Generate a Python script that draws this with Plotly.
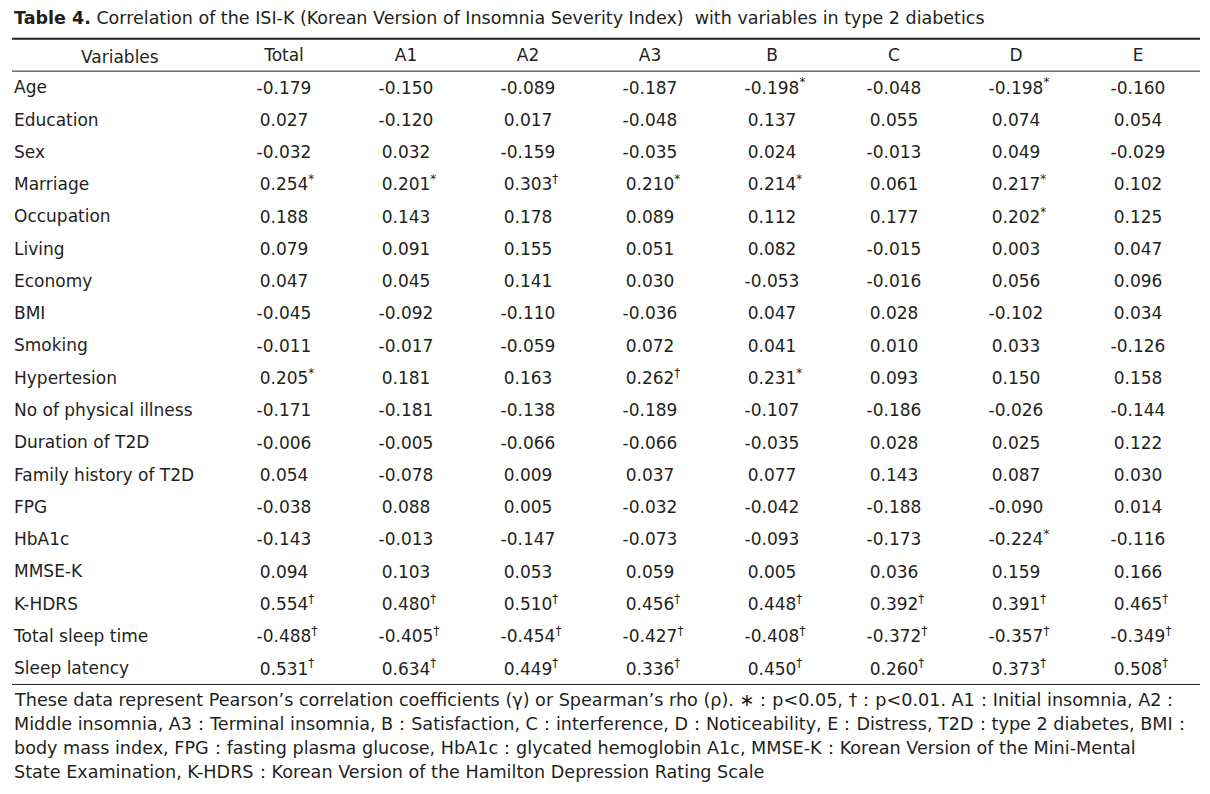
import plotly.graph_objects as go

# table data
variables = ["Age", "Education", "Sex", "Marriage", "Occupation", "Living", "Economy",
             "BMI", "Smoking", "Hypertesion", "No of physical illness", "Duration of T2D",
             "Family history of T2D", "FPG", "HbA1c", "MMSE-K", "K-HDRS",
             "Total sleep time", "Sleep latency"]
columns = ["Total", "A1", "A2", "A3", "B", "C", "D", "E"]

total = [-0.179, 0.027, -0.032, 0.254, 0.188, 0.079, 0.047, -0.045, -0.011, 0.205,
         -0.171, -0.006, 0.054, -0.038, -0.143, 0.094, 0.554, -0.488, 0.531]
a1 = [-0.150, -0.120, 0.032, 0.201, 0.143, 0.091, 0.045, -0.092, -0.017, 0.181,
      -0.181, -0.005, -0.078, 0.088, -0.013, 0.103, 0.480, -0.405, 0.634]
a2 = [-0.089, 0.017, -0.159, 0.303, 0.178, 0.155, 0.141, -0.110, -0.059, 0.163,
      -0.138, -0.066, 0.009, 0.005, -0.147, 0.053, 0.510, -0.454, 0.449]
a3 = [-0.187, -0.048, -0.035, 0.210, 0.089, 0.051, 0.030, -0.036, 0.072, 0.262,
      -0.189, -0.066, 0.037, -0.032, -0.073, 0.059, 0.456, -0.427, 0.336]
b = [-0.198, 0.137, 0.024, 0.214, 0.112, 0.082, -0.053, 0.047, 0.041, 0.231,
     -0.107, -0.035, 0.077, -0.042, -0.093, 0.005, 0.448, -0.408, 0.450]
c = [-0.048, 0.055, -0.013, 0.061, 0.177, -0.015, -0.016, 0.028, 0.010, 0.093,
     -0.186, 0.028, 0.143, -0.188, -0.173, 0.036, 0.392, -0.372, 0.260]
d = [-0.198, 0.074, 0.049, 0.217, 0.202, 0.003, 0.056, -0.102, 0.033, 0.150,
     -0.026, 0.025, 0.087, -0.090, -0.224, 0.159, 0.391, -0.357, 0.373]
e = [-0.160, 0.054, -0.029, 0.102, 0.125, 0.047, 0.096, 0.034, -0.126, 0.158,
     -0.144, 0.122, 0.030, 0.014, -0.116, 0.166, 0.465, -0.349, 0.508]

# significance marks: * p<0.05, † p<0.01
sig_total = ["", "", "", "*", "", "", "", "", "", "*", "", "", "", "", "", "", "†", "†", "†"]
sig_a1 = ["", "", "", "*", "", "", "", "", "", "", "", "", "", "", "", "", "†", "†", "†"]
sig_a2 = ["", "", "", "†", "", "", "", "", "", "", "", "", "", "", "", "", "†", "†", "†"]
sig_a3 = ["", "", "", "*", "", "", "", "", "", "†", "", "", "", "", "", "", "†", "†", "†"]
sig_b = ["*", "", "", "*", "", "", "", "", "", "*", "", "", "", "", "", "", "†", "†", "†"]
sig_c = ["", "", "", "", "", "", "", "", "", "", "", "", "", "", "", "", "†", "†", "†"]
sig_d = ["*", "", "", "*", "*", "", "", "", "", "", "", "", "", "", "*", "", "†", "†", "†"]
sig_e = ["", "", "", "", "", "", "", "", "", "", "", "", "", "", "", "", "†", "†", "†"]

values = [total, a1, a2, a3, b, c, d, e]
marks = [sig_total, sig_a1, sig_a2, sig_a3, sig_b, sig_c, sig_d, sig_e]

title_bold = "Table 4."
title_rest = ("Correlation of the ISI-K (Korean Version of Insomnia Severity Index)  "
              "with variables in type 2 diabetics")
footnote = [
    "These data represent Pearson\u2019s correlation coefficients (\u03b3) or Spearman\u2019s rho (\u03c1). "
    "\u2217\uff1ap<0.05, \u2020\uff1ap<0.01. A1\uff1aInitial insomnia, A2\uff1a",
    "Middle insomnia, A3\uff1aTerminal insomnia, B\uff1aSatisfaction, C\uff1ainterference, "
    "D\uff1aNoticeability, E\uff1aDistress, T2D\uff1atype 2 diabetes, BMI\uff1a",
    "body mass index, FPG\uff1afasting plasma glucose, HbA1c\uff1aglycated hemoglobin A1c, "
    "MMSE-K\uff1aKorean Version of the Mini-Mental",
    "State Examination, K-HDRS\uff1aKorean Version of the Hamilton Depression Rating Scale",
]

# page geometry (pixels)
W, H = 1210, 794
FONT = "DejaVu Sans"
INK = "#231f20"
left_px = 11           # where the plot area (and row labels) start
col0_px, col_step = 284, 122
hdr_px, row_step = 57, 32.28
rule_lift = 2 / row_step   # rules sit a touch above the row midlines

header_key = "__header__"
rows = [header_key] + variables

x0 = -(col0_px - left_px) / col_step
x1 = x0 + (W - left_px) / col_step
y_top = -hdr_px / row_step
y_bot = y_top + H / row_step


def cell(v, m):
    num = f"{v:.3f}"
    if not m:
        return num
    # invisible copy of the mark on the left keeps the number centred
    return f"<span style='color:rgba(0,0,0,0)'><sup>{m}</sup></span>{num}<sup>{m}</sup>"


fig = go.Figure()

# header row
fig.add_trace(go.Scatter(
    x=columns, y=[header_key] * len(columns),
    mode="text", text=columns,
    textfont=dict(family=FONT, size=17, color=INK),
    textposition="middle center", hoverinfo="skip",
))

for col, vals, sig in zip(columns, values, marks):
    fig.add_trace(go.Scatter(
        x=[col] * len(variables), y=variables,
        mode="text", text=[cell(v, m) for v, m in zip(vals, sig)],
        textfont=dict(family=FONT, size=17, color=INK),
        textposition="middle center", hoverinfo="skip",
    ))

fig.update_layout(
    width=W, height=H,
    margin=dict(l=0, r=0, t=0, b=0),
    paper_bgcolor="white",
    plot_bgcolor="white",
    showlegend=False,
    xaxis=dict(
        type="category", categoryorder="array", categoryarray=columns,
        range=[x0, x1], domain=[left_px / W, 1],
        showgrid=False, zeroline=False, showticklabels=False, showline=False,
        fixedrange=True,
    ),
    yaxis=dict(
        type="category", categoryorder="array", categoryarray=rows,
        range=[y_bot, y_top],
        showgrid=False, zeroline=False, showline=False,
        tickmode="array", tickvals=variables, ticktext=variables,
        ticklabelposition="inside", ticks="", ticklabelshift=2,
        tickfont=dict(family=FONT, size=17, color=INK),
        fixedrange=True,
    ),
)

# rules: thick top, thin below header, thin at bottom
rule_x0, rule_x1 = 12 / W, 1200 / W
for yv, w in [(-0.5, 2), (0.5, 1), (len(variables) + 0.5, 1)]:
    fig.add_shape(type="line", xref="paper", yref="y", x0=rule_x0, x1=rule_x1,
                  y0=yv - rule_lift, y1=yv - rule_lift, line=dict(color=INK, width=w))

fig.add_annotation(
    x=120 / W, xref="paper", y=header_key, yref="y",
    text="Variables", showarrow=False, xanchor="center",
    font=dict(family=FONT, size=17, color=INK),
)

fig.add_annotation(
    x=12 / W, xref="paper", y=1 - 18 / H, yref="paper",
    text=f"<b>{title_bold}</b> {title_rest}", showarrow=False,
    xanchor="left", yanchor="middle",
    font=dict(family=FONT, size=17.5, color=INK),
)

for i, line in enumerate(footnote):
    fig.add_annotation(
        x=12 / W, xref="paper", y=1 - (700 + 24 * i) / H, yref="paper",
        text=line, showarrow=False, xanchor="left", yanchor="middle",
        font=dict(family=FONT, size=17.6, color=INK),
    )

# drop the default page margin so the figure sits at the window origin
fig.write_html(
    "out.html",
    config={"displayModeBar": False},
    post_script="document.body.style.margin='0';document.body.style.overflow='hidden';",
)
